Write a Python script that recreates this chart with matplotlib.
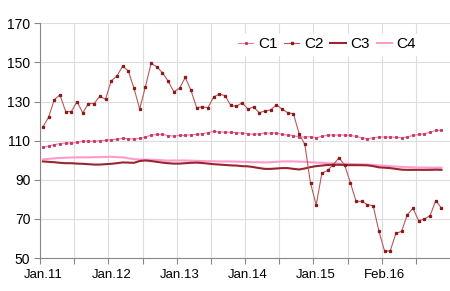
import matplotlib
matplotlib.use('Agg')
import matplotlib.pyplot as plt

# index values, monthly series (71 points)
c1 = [106.6, 107.3, 108.0, 108.5, 108.8, 108.8, 109.1, 109.8, 109.7, 109.8,
      110.0, 110.2, 110.5, 110.7, 111.2, 111.0, 110.9, 111.2, 111.9, 112.9,
      113.2, 113.2, 112.6, 112.4, 112.7, 112.7, 113.1, 113.2, 113.6, 114.1,
      114.8, 114.4, 114.4, 114.3, 114.1, 113.9, 113.6, 113.2, 113.6, 113.9,
      113.9, 114.1, 113.2, 112.9, 112.6, 111.9, 111.9, 112.1, 111.5, 112.2,
      112.9, 112.9, 112.9, 112.9, 112.7, 112.2, 111.5, 111.0, 111.5, 111.9,
      111.9, 111.9, 111.7, 111.5, 111.9, 112.7, 113.2, 113.6, 114.3, 115.3,
      115.3]
c2 = [117.0, 122.0, 131.0, 133.4, 124.9, 124.9, 130.0, 124.2, 129.0, 129.0,
      132.7, 131.2, 140.6, 143.0, 148.1, 145.7, 136.8, 126.2, 137.5, 149.5,
      147.8, 144.7, 140.4, 135.0, 136.8, 142.3, 135.8, 126.9, 127.3, 126.9,
      132.4, 133.8, 133.0, 128.0, 127.6, 129.4, 126.2, 127.2, 124.3, 125.2,
      125.7, 128.3, 126.2, 124.3, 123.8, 113.6, 108.1, 88.3, 77.2, 93.4,
      94.8, 97.8, 101.3, 97.5, 88.6, 79.0, 79.0, 77.3, 76.8, 64.0,
      53.7, 53.7, 62.6, 63.7, 72.2, 75.4, 69.1, 70.0, 71.7, 79.4,
      75.6]
c3 = [99.4, 99.2, 99.0, 98.7, 98.5, 98.5, 98.3, 98.2, 98.0, 97.8,
      97.8, 98.0, 98.2, 98.5, 98.9, 98.8, 98.7, 99.6, 99.9, 99.6,
      99.2, 98.8, 98.5, 98.3, 98.3, 98.5, 98.7, 98.8, 98.6, 98.3,
      98.0, 97.8, 97.6, 97.4, 97.3, 97.0, 96.9, 96.5, 96.0, 95.6,
      95.6, 95.8, 96.0, 96.0, 95.6, 95.3, 95.8, 96.5, 97.0, 97.3,
      97.6, 97.7, 97.7, 97.6, 97.5, 97.5, 97.5, 97.4, 97.0, 96.4,
      96.2, 96.0, 95.6, 95.2, 95.1, 95.1, 95.1, 95.1, 95.1, 95.2,
      95.1]
c4 = [100.5, 100.7, 101.0, 101.2, 101.3, 101.4, 101.5, 101.5, 101.5, 101.6,
      101.6, 101.7, 101.8, 101.6, 101.5, 101.0, 100.6, 100.4, 100.3, 100.3,
      100.2, 100.0, 99.8, 99.9, 99.9, 99.9, 99.8, 99.7, 99.6, 99.5,
      99.5, 99.4, 99.4, 99.4, 99.3, 99.2, 99.1, 99.0, 99.0, 98.9,
      99.0, 99.2, 99.4, 99.4, 99.4, 99.3, 99.2, 99.0, 98.8, 98.7,
      98.5, 98.4, 98.3, 98.2, 98.1, 98.0, 97.9, 97.8, 97.6, 97.4,
      97.2, 97.0, 96.8, 96.6, 96.5, 96.4, 96.3, 96.3, 96.2, 96.2,
      96.2]
tick_labels = ['Jan.11', 'Jan.12', 'Jan.13', 'Jan.14', 'Jan.15', 'Feb.16']
label_pos = [0, 12, 24, 36, 48, 60]

plt.rcParams['font.family'] = ['Liberation Sans', 'DejaVu Sans']

fig = plt.figure(figsize=(4.5, 2.91), dpi=100)
ax = fig.add_axes([0.089, 0.113, 0.911, 0.807])

x = list(range(len(c1)))
ax.plot(x, c3, color='#9a2530', lw=1.5, label='C3', zorder=3)
ax.plot(x, c4, color='#ff9ccc', lw=1.5, label='C4', zorder=2)
ax.plot(x, c1, color='#ec7fa5', lw=0.8, marker='s', ms=1.2,
        mfc='#c83a6a', mec='#c83a6a', label='C1', zorder=4)
ax.plot(x, c2, color='#b65a5a', lw=0.8, marker='s', ms=1.4,
        mfc='#8b1a1a', mec='#8b1a1a', label='C2', zorder=5)

ax.set_ylim(50, 170)
ax.set_yticks(range(50, 171, 20))
ax.set_xlim(-0.5, 71.5)
ax.set_xticks([i - 0.5 for i in range(0, 72, 6)])
ax.set_xticklabels([])
ax.set_xticks(label_pos, minor=True)
ax.set_xticklabels(tick_labels, minor=True)
ax.tick_params(axis='x', which='minor', length=0, labelsize=9.5, pad=8)
ax.tick_params(axis='x', which='major', length=4, color='#888888', direction='out')
ax.tick_params(axis='y', length=4, color='#888888', labelsize=10, pad=3)

ax.grid(True, which='major', color='#dcdcdc', lw=0.8)
ax.set_axisbelow(True)
for s in ['top', 'right']:
    ax.spines[s].set_visible(False)
for s in ['left', 'bottom']:
    ax.spines[s].set_color('#888888')

# legend order C1..C4
h, l = ax.get_legend_handles_labels()
order = [l.index(n) for n in ['C1', 'C2', 'C3', 'C4']]
leg = ax.legend([h[i] for i in order], [l[i] for i in order], ncol=4,
                loc='upper center', bbox_to_anchor=(0.70, 0.985), frameon=True,
                fontsize=11, handlelength=1.0, handletextpad=0.3,
                columnspacing=0.45, borderpad=0.2, fancybox=False)
leg.get_frame().set_edgecolor('white')
leg.get_frame().set_alpha(1)

fig.savefig('out.png', dpi=100)
plt.close(fig)
